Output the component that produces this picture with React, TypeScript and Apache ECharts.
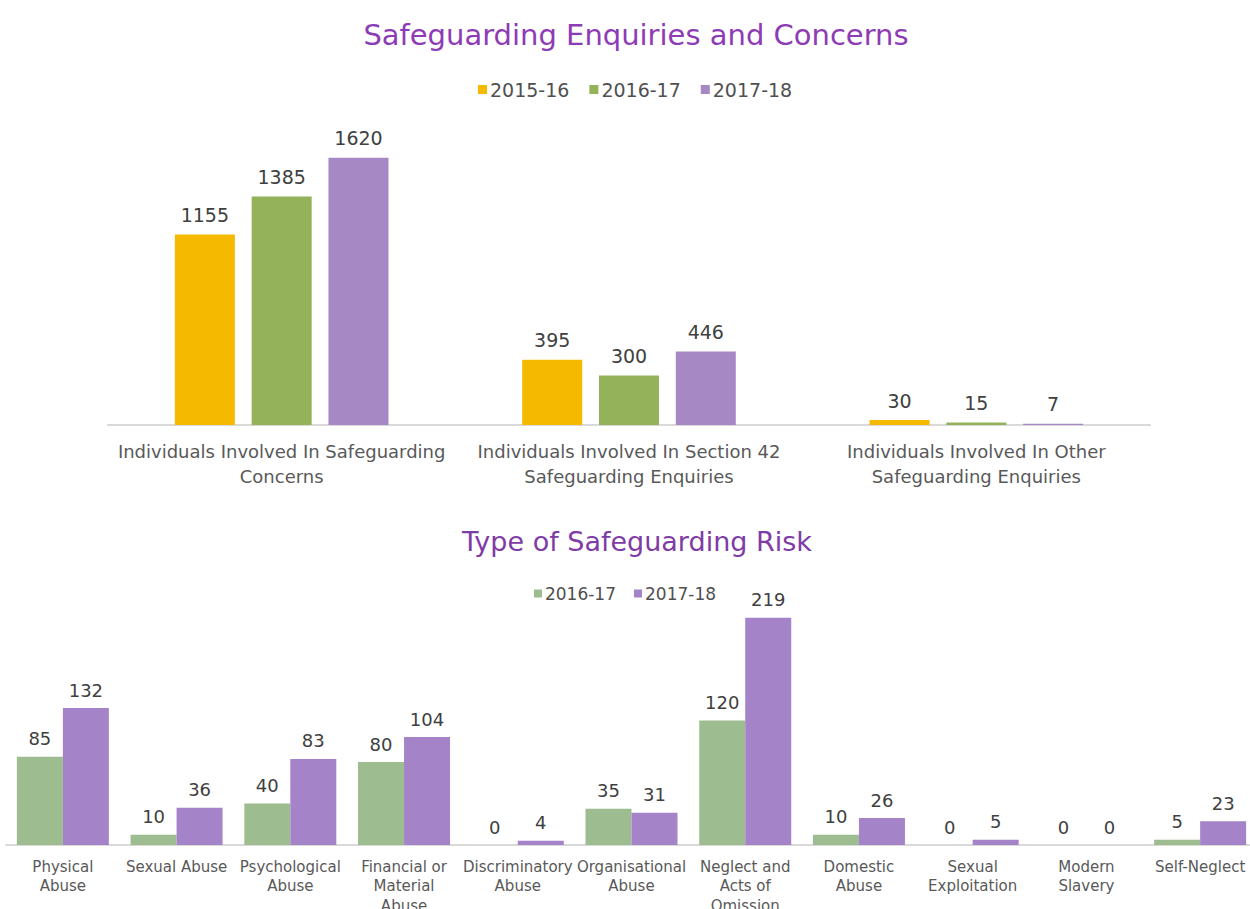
import React, { useEffect, useRef } from "react";
import * as echarts from "echarts";

const topCategories = [
  "Individuals Involved In Safeguarding\nConcerns",
  "Individuals Involved In Section 42\nSafeguarding Enquiries",
  "Individuals Involved In Other\nSafeguarding Enquiries",
];
const top2015 = [1155, 395, 30];
const top2016 = [1385, 300, 15];
const top2017 = [1620, 446, 7];

const riskCategories = [
  "Physical\nAbuse",
  "Sexual Abuse",
  "Psychological\nAbuse",
  "Financial or\nMaterial\nAbuse",
  "Discriminatory\nAbuse",
  "Organisational\nAbuse",
  "Neglect and\nActs of\nOmission",
  "Domestic\nAbuse",
  "Sexual\nExploitation",
  "Modern\nSlavery",
  "Self-Neglect",
];
const risk2016 = [85, 10, 40, 80, 0, 35, 120, 10, 0, 0, 5];
const risk2017 = [132, 36, 83, 104, 4, 31, 219, 26, 5, 0, 23];

const FONT = "'DejaVu Sans', sans-serif";

export default function App() {
  const ref = useRef<HTMLDivElement>(null);
  useEffect(() => {
    if (!ref.current) return;
    const chart = echarts.init(ref.current, null, { renderer: "svg" });
    const labelTop = {
      show: true,
      position: "top" as const,
      distance: 10,
      color: "#404040",
      fontSize: 19,
      fontFamily: FONT,
    };
    const labelBottom = { ...labelTop, fontSize: 18, distance: 9 };
    chart.setOption({
      animation: false,
      backgroundColor: "#ffffff",
      textStyle: { fontFamily: FONT },
      title: [
        {
          text: "Safeguarding Enquiries and Concerns",
          left: 631,
          textAlign: "center",
          top: 15,
          textStyle: { color: "#8E3BB6", fontSize: 29, fontWeight: "normal", fontFamily: FONT },
        },
        {
          text: "Type of Safeguarding Risk",
          left: 632,
          textAlign: "center",
          top: 523,
          textStyle: { color: "#7F3BA6", fontSize: 27, fontWeight: "normal", fontFamily: FONT },
        },
      ],
      legend: [
        {
          data: ["2015-16", "2016-17", "2017-18"],
          top: 75,
          left: 473,
          itemWidth: 9,
          itemHeight: 9,
          itemGap: 20,
          icon: "rect",
          textStyle: { color: "#505050", fontSize: 19, fontFamily: FONT, padding: [0, 0, 0, -2] },
        },
        {
          data: ["Risk 2016-17", "Risk 2017-18"],
          formatter: (n: string) => n.replace("Risk ", ""),
          top: 580,
          left: "center",
          itemWidth: 8,
          itemHeight: 8,
          itemGap: 18,
          icon: "rect",
          textStyle: { color: "#505050", fontSize: 17, fontFamily: FONT, padding: [0, 0, 0, -2] },
        },
      ],
      grid: [
        { left: 108, width: 1042, top: 128, height: 297, outerBoundsMode: "none" },
        { left: 6, width: 1251, top: 596, height: 249, outerBoundsMode: "none" },
      ],
      xAxis: [
        {
          type: "category",
          gridIndex: 0,
          data: topCategories,
          axisLine: { lineStyle: { color: "#D9D9D9", width: 2 } },
          axisTick: { show: false },
          axisLabel: {
            interval: 0,
            margin: 14,
            color: "#595959",
            fontSize: 18,
            lineHeight: 25,
            fontFamily: FONT,
          },
        },
        {
          type: "category",
          gridIndex: 1,
          data: riskCategories,
          axisLine: { lineStyle: { color: "#D9D9D9", width: 2 } },
          axisTick: { show: false },
          axisLabel: {
            interval: 0,
            margin: 12,
            color: "#595959",
            fontSize: 15,
            lineHeight: 19.5,
            fontFamily: FONT,
          },
        },
      ],
      yAxis: [
        { type: "value", gridIndex: 0, min: 0, max: 1800, show: false },
        { type: "value", gridIndex: 1, min: 0, max: 240, show: false },
      ],
      series: [
        {
          name: "2015-16",
          type: "bar",
          xAxisIndex: 0,
          yAxisIndex: 0,
          data: top2015,
          itemStyle: { color: "#F5BA00" },
          barWidth: 60,
          barGap: "28%",
          label: labelTop,
        },
        {
          name: "2016-17",
          type: "bar",
          xAxisIndex: 0,
          yAxisIndex: 0,
          data: top2016,
          itemStyle: { color: "#93B25A" },
          barWidth: 60,
          barGap: "28%",
          label: labelTop,
        },
        {
          name: "2017-18",
          type: "bar",
          xAxisIndex: 0,
          yAxisIndex: 0,
          data: top2017,
          itemStyle: { color: "#A688C4" },
          barWidth: 60,
          barGap: "28%",
          label: labelTop,
        },
        {
          name: "Risk 2016-17",
          type: "bar",
          xAxisIndex: 1,
          yAxisIndex: 1,
          data: risk2016,
          itemStyle: { color: "#9DBC8F" },
          barWidth: 46,
          barGap: "0%",
          label: labelBottom,
        },
        {
          name: "Risk 2017-18",
          type: "bar",
          xAxisIndex: 1,
          yAxisIndex: 1,
          data: risk2017,
          itemStyle: { color: "#A583C9" },
          barWidth: 46,
          barGap: "0%",
          label: labelBottom,
        },
      ],
    });
    return () => chart.dispose();
  }, []);
  return (
    <div
      ref={ref}
      style={{ position: "absolute", left: 0, top: 0, width: 1250, height: 909 }}
    />
  );
}
